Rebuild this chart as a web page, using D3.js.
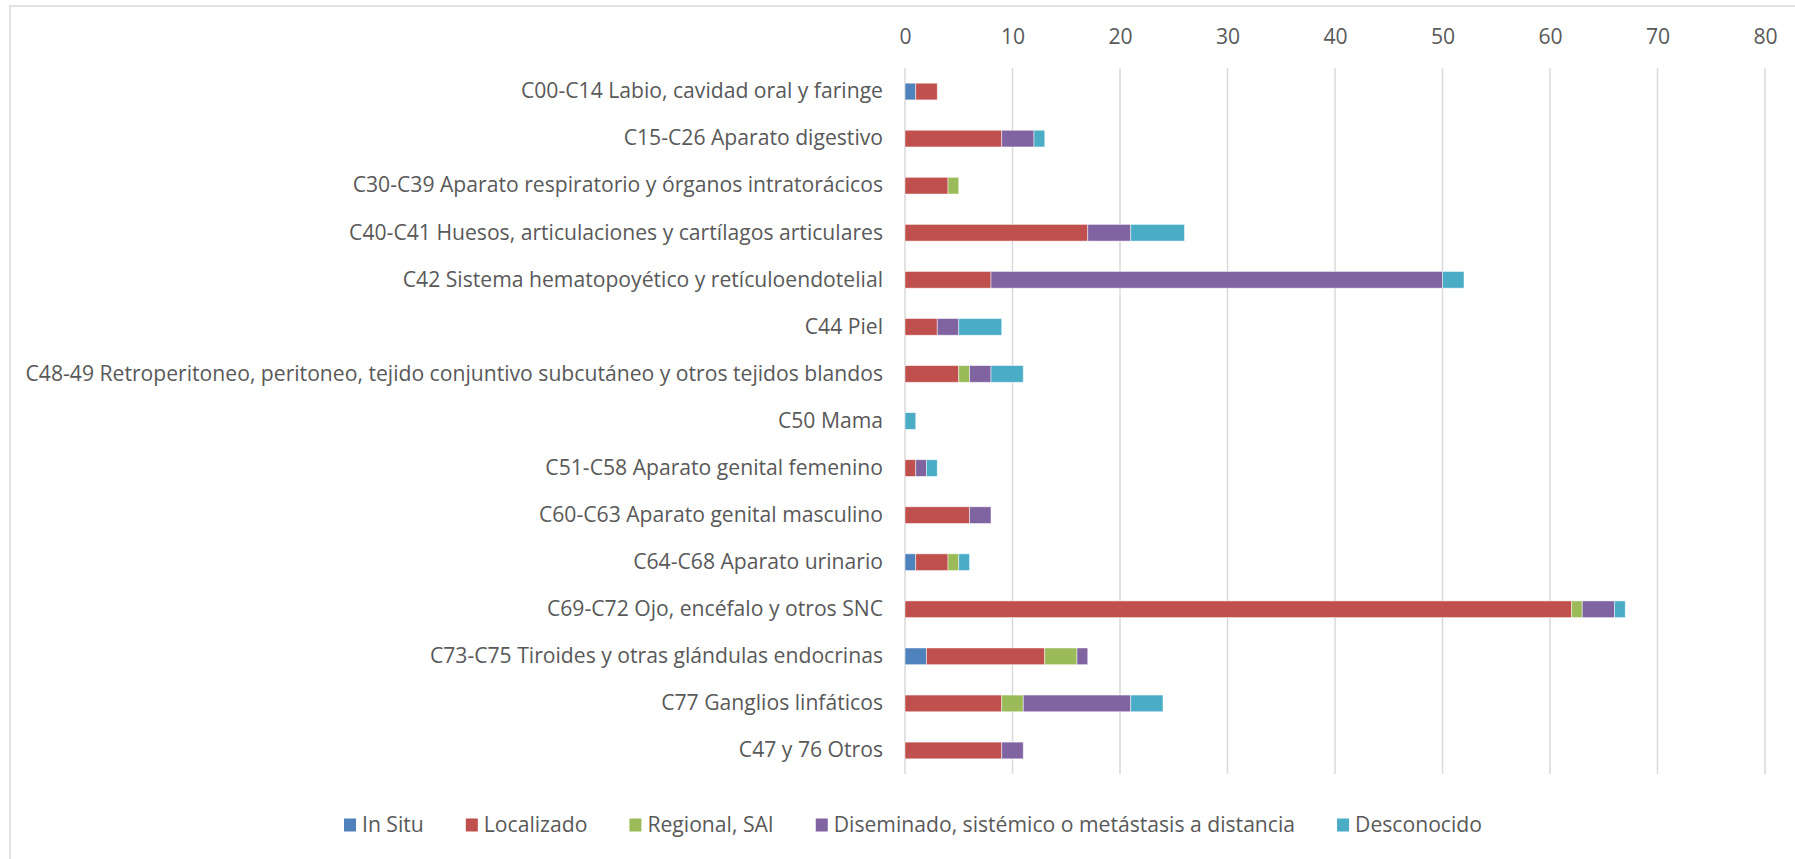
<!DOCTYPE html>
<html>
<head>
<meta charset="utf-8">
<script src="https://cdn.jsdelivr.net/npm/d3@7"></script>
<style>
  body { margin: 0; background: #fff; }
  svg { display: block; font-family: "Open Sans", sans-serif; }
</style>
</head>
<body>
<div id="chart"></div>
<script>
const categories = [
  "C00-C14 Labio, cavidad oral y faringe",
  "C15-C26 Aparato digestivo",
  "C30-C39 Aparato respiratorio y órganos intratorácicos",
  "C40-C41 Huesos, articulaciones y cartílagos articulares",
  "C42 Sistema hematopoyético y retículoendotelial",
  "C44 Piel",
  "C48-49 Retroperitoneo, peritoneo, tejido conjuntivo subcutáneo y otros tejidos blandos",
  "C50 Mama",
  "C51-C58 Aparato genital femenino",
  "C60-C63 Aparato genital masculino",
  "C64-C68 Aparato urinario",
  "C69-C72 Ojo, encéfalo y otros SNC",
  "C73-C75 Tiroides y otras glándulas endocrinas",
  "C77 Ganglios linfáticos",
  "C47 y 76 Otros "
];

const seriesNames = ["In Situ", "Localizado", "Regional, SAI",
  "Diseminado, sistémico o metástasis a distancia", "Desconocido"];

const inSitu      = [1, 0, 0, 0, 0, 0, 0, 0, 0, 0, 1, 0, 2, 0, 0];
const localizado  = [2, 9, 4, 17, 8, 3, 5, 0, 1, 6, 3, 62, 11, 9, 9];
const regional    = [0, 0, 1, 0, 0, 0, 1, 0, 0, 0, 1, 1, 3, 2, 0];
const diseminado  = [0, 3, 0, 4, 42, 2, 2, 0, 1, 2, 0, 3, 1, 10, 2];
const desconocido = [0, 1, 0, 5, 2, 4, 3, 1, 1, 0, 1, 1, 0, 3, 0];

const xTicks = [0, 10, 20, 30, 40, 50, 60, 70, 80];
const colors = ["#4f81bd", "#c0504d", "#9bbb59", "#8064a2", "#4bacc6"];

const width = 1795, height = 859;
const margins = { top: 68, bottom: 85, left: 905, right: 30 };
const textColor = "#595959";

const rows = categories.map((c, i) => ({
  cat: c,
  "In Situ": inSitu[i],
  "Localizado": localizado[i],
  "Regional, SAI": regional[i],
  "Diseminado, sistémico o metástasis a distancia": diseminado[i],
  "Desconocido": desconocido[i]
}));

const svg = d3.select("#chart").append("svg")
  .attr("width", width)
  .attr("height", height);

// chart frame
svg.append("rect")
  .attr("x", 10).attr("y", 6)
  .attr("width", width).attr("height", height)
  .attr("fill", "none")
  .attr("stroke", "#d9d9d9")
  .attr("stroke-width", 1.5);

// pick a font size so the longest label fills the same width as the original
const probe = svg.append("text").style("font-size", "20px").text(categories[6]);
const fontSize = 20 * 858 / probe.node().getComputedTextLength();
probe.remove();

const xScale = d3.scaleLinear()
  .domain([0, 80])
  .range([margins.left, width - margins.right]);

const yScale = d3.scaleBand()
  .domain(categories)
  .range([margins.top, height - margins.bottom])
  .paddingInner(0.645)
  .paddingOuter(0.3225);

// gridlines
svg.append("g")
  .selectAll("line")
  .data(xTicks)
  .join("line")
  .attr("x1", d => xScale(d)).attr("x2", d => xScale(d))
  .attr("y1", margins.top).attr("y2", height - margins.bottom)
  .attr("stroke", "#d9d9d9")
  .attr("stroke-width", 1.5);

// top axis labels
const xAxis = d3.axisTop(xScale).tickValues(xTicks).tickSize(0).tickPadding(0);
svg.append("g")
  .attr("class", "axis x-axis")
  .attr("transform", `translate(0,${margins.top - 24})`)
  .call(xAxis)
  .call(g => g.select(".domain").remove())
  .selectAll("text")
  .style("font-family", "Open Sans, sans-serif")
  .style("font-size", fontSize + "px")
  .attr("fill", textColor);

// category labels
const yAxis = d3.axisLeft(yScale).tickSize(0).tickPadding(22);
svg.append("g")
  .attr("class", "axis y-axis")
  .attr("transform", `translate(${margins.left},0)`)
  .call(yAxis)
  .call(g => g.select(".domain").remove())
  .selectAll("text")
  .style("font-family", "Open Sans, sans-serif")
  .style("font-size", fontSize + "px")
  .attr("fill", textColor);

// stacked bars
const stacked = d3.stack().keys(seriesNames)(rows);

svg.append("g")
  .selectAll("g")
  .data(stacked)
  .join("g")
  .attr("fill", (d, i) => colors[i])
  .selectAll("rect")
  .data(d => d.filter(s => s[1] - s[0] > 0))
  .join("rect")
  .attr("x", d => xScale(d[0]))
  .attr("width", d => xScale(d[1]) - xScale(d[0]))
  .attr("y", d => yScale(d.data.cat))
  .attr("height", yScale.bandwidth())
  .attr("stroke", "#fff")
  .attr("stroke-opacity", 0.6)
  .attr("stroke-width", 0.8);

// legend
const legend = svg.append("g").attr("class", "legend");
const legendY = 825;
const sw = 12;
let cursor = 0;
const items = seriesNames.map((name, i) => {
  const g = legend.append("g");
  g.append("rect")
    .attr("x", 0).attr("y", legendY - 6.5)
    .attr("width", sw).attr("height", 13)
    .attr("fill", colors[i]);
  const t = g.append("text")
    .attr("x", sw + 6)
    .attr("y", legendY)
    .attr("dy", "0.35em")
    .style("font-size", fontSize + "px")
    .attr("fill", textColor)
    .text(name);
  const w = sw + 6 + t.node().getComputedTextLength();
  g.attr("transform", `translate(${cursor},0)`);
  cursor += w + 42;
  return g;
});
const legendWidth = cursor - 42;
legend.attr("transform", `translate(${913 - legendWidth / 2},0)`);
</script>
</body>
</html>
